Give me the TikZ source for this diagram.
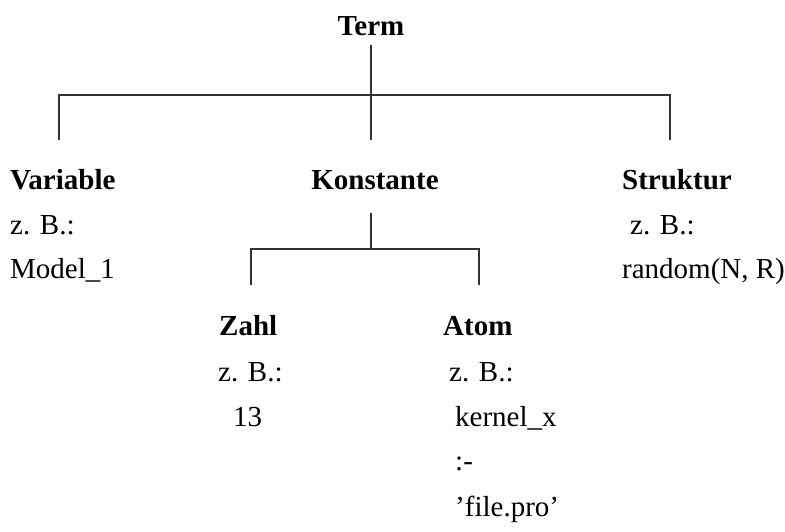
\documentclass[tikz,border=0pt]{standalone}
\usepackage{fontspec}
\setmainfont{Liberation Serif}
\begin{document}
\begin{tikzpicture}[x=1pt,y=-1pt,
  lbl/.style={inner sep=0pt,font=\fontsize{29}{33}\selectfont},
  head/.style={lbl,font=\fontsize{29}{33}\selectfont\bfseries},
  conn/.style={line width=1.3pt,color=black!80}]
\useasboundingbox (0,0) rectangle (785,531);
% headings
\node[head,anchor=base] (term) at (371,35) {Term};
\node[head,anchor=base west] (var) at (10,189) {Variable};
\node[head,anchor=base] (kon) at (375,189) {Konstante};
\node[head,anchor=base west] (str) at (622,189) {Struktur};
\node[head,anchor=base west] (zahl) at (219,335) {Zahl};
\node[head,anchor=base west] (atom) at (443,335) {Atom};
% examples
\node[lbl,anchor=base west] (varz) at (10,234) {z. B.:};
\node[lbl,anchor=base west] (varex) at (10,278) {Model\_1};
\node[lbl,anchor=base west] (strz) at (630,234) {z. B.:};
\node[lbl,anchor=base west] (strex) at (622,278) {random(N, R)};
\node[lbl,anchor=base west] (zahlz) at (218,381) {z. B.:};
\node[lbl,anchor=base west] (zahlex) at (233,426) {13};
\node[lbl,anchor=base west] (atomz) at (449,381) {z. B.:};
\node[lbl,anchor=base west] (atomex1) at (455,426) {kernel\_x};
\node[lbl,anchor=base west] (atomex2) at (455,470) {:-};
\node[lbl,anchor=base west] (atomex3) at (455,516) {'file.pro'};
% connector points
\coordinate (t0) at (371,45);
\coordinate (tj) at (371,95);
\coordinate (tl) at (59,95);
\coordinate (tr) at (670,95);
\coordinate (tlv) at (59,140);
\coordinate (tmv) at (371,140);
\coordinate (trv) at (670,140);
\coordinate (k0) at (371,213);
\coordinate (kj) at (371,249);
\coordinate (kl) at (251,249);
\coordinate (kr) at (479,249);
\coordinate (klv) at (251,285);
\coordinate (krv) at (479,285);
\draw[conn] (t0) -- (tmv);
\draw[conn] (tlv) -- (tl) -- (tr) -- (trv);
\draw[conn] (k0) -- (kj);
\draw[conn] (klv) -- (kl) -- (kr) -- (krv);
\end{tikzpicture}
\end{document}
